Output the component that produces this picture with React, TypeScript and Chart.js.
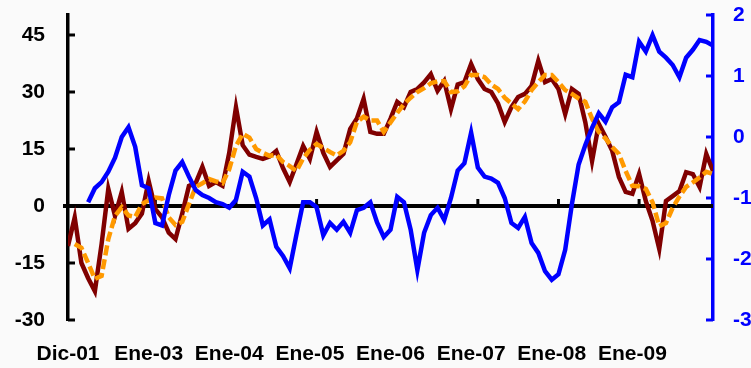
import React, { useEffect, useRef } from "react";
import { Chart, registerables } from "chart.js";

Chart.register(...registerables);

// Month index 0 = Dic-01 ... 96 = Dic-09
const xTickLabels = ["Dic-01", "Ene-03", "Ene-04", "Ene-05", "Ene-06", "Ene-07", "Ene-08", "Ene-09"];
const xTickPositions = [0, 12, 24, 36, 48, 60, 72, 84];
const yearTickMarks = [13, 25, 37, 49, 61, 73, 85];
const leftTicks = [-30, -15, 0, 15, 30, 45];
const rightTicks = [-3, -2, -1, 0, 1, 2];

// Maroon series (left axis)
const seriesMaroon = [
  -10.5, -3, -15, -19, -22.4, -10, 4.5, -2.6, 3.7, -6,
  -4.5, -2, 6.6, -0.8, -3, -7, -8.7, -2, 5.3, 6,
  10.3, 5.3, 6.3, 5.3, 14, 26, 16, 13.5, 12.9, 12.4,
  13, 14.5, 10, 6.3, 11, 15.8, 12.4, 19.5, 14, 10.3,
  12, 13.7, 20.3, 23, 28.2, 19.5, 19, 19, 23, 27.4,
  26, 30, 30.8, 32.5, 34.7, 30.3, 32.9, 25.5, 32, 32.6,
  37.4, 33.4, 30.8, 30, 27, 22.1, 26, 28.7, 29.5, 31.6,
  38.2, 32.6, 33.4, 30.8, 24.2, 30.8, 29.5, 22, 11.8, 21.6,
  18.2, 14.5, 7.6, 3.7, 3.2, 8.4, 1.3, -3.9, -11.3, 1.3,
  2.6, 3.9, 8.9, 8.4, 5, 13.7, 9.2,
];

// Orange dashed series (left axis)
const seriesOrange = [
  null, -10, -11, -15, -19.2, -18.4, -8.7, -2.6, -0.3, -2.5,
  -2.9, 0.5, 1.5, 2.2, 2, -3, -5, -4.2, 0.5, 5,
  6, 7.1, 6.5, 6, 9.7, 15.8, 19, 18, 15, 14,
  13.2, 13.5, 11.6, 10.5, 9.2, 12.5, 14.8, 16.3, 15.3, 14.2,
  13.3, 14.5, 16.8, 22.1, 23.5, 22.5, 22.5, 19.5, 22, 24.5,
  26.8, 28.5, 30, 31, 32.3, 32.8, 32.9, 30, 30.2, 31.5,
  34.5, 34.5, 33.9, 32, 30.8, 28.5, 27, 25.5, 27.5, 30.5,
  32.6, 34.5, 34.5, 32.6, 30.5, 29.5, 28.3, 27.4, 23, 19.5,
  17.8, 15.5, 13.7, 9.2, 5.3, 5.2, 4.5, 1, -5.3, -4.5,
  -0.5, 2.5, 5, 6.2, 7.5, 9, 8.4,
];

// Blue series (right axis)
const seriesBlue = [
  null, null, null, -1.07, -0.84, -0.74, -0.57, -0.34, 0, 0.16,
  -0.16, -0.79, -0.84, -1.41, -1.45, -0.95, -0.55, -0.41, -0.65, -0.87,
  -0.95, -1.0, -1.07, -1.1, -1.16, -1.03, -0.57, -0.65, -1.0, -1.45,
  -1.35, -1.8, -1.95, -2.15, -1.6, -1.07, -1.07, -1.15, -1.61, -1.41,
  -1.52, -1.39, -1.57, -1.2, -1.16, -1.07, -1.4, -1.64, -1.52, -0.98,
  -1.07, -1.52, -2.18, -1.57, -1.28, -1.16, -1.36, -1.0, -0.55, -0.43,
  0.07, -0.5, -0.65, -0.68, -0.75, -1.0, -1.41, -1.49, -1.31, -1.74,
  -1.9, -2.2, -2.34, -2.25, -1.85, -1.1, -0.45, -0.13, 0.15, 0.39,
  0.25, 0.49, 0.57, 1.02, 0.98, 1.56, 1.4, 1.67, 1.4, 1.3,
  1.18, 0.98, 1.3, 1.43, 1.59, 1.56, 1.5,
];

const FONT = "'Liberation Sans', Arial, sans-serif";

const toPoints = (arr: (number | null)[]) => arr.map((v, i) => ({ x: i, y: v }));

const decorPlugin = {
  id: "decor",
  beforeDatasetsDraw(chart: any) {
    const { ctx, chartArea, scales } = chart;
    const y0 = scales.y.getPixelForValue(0);
    ctx.save();
    ctx.strokeStyle = "#000";
    ctx.lineWidth = 4;
    ctx.beginPath();
    ctx.moveTo(chartArea.left - 5, y0);
    ctx.lineTo(chartArea.right, y0);
    ctx.stroke();
    ctx.lineWidth = 3;
    yearTickMarks.forEach((m) => {
      const x = scales.x.getPixelForValue(m);
      ctx.beginPath();
      ctx.moveTo(x, y0);
      ctx.lineTo(x, y0 - 7);
      ctx.stroke();
    });
    ctx.restore();
  },
  afterDraw(chart: any) {
    const { ctx, chartArea, scales } = chart;
    ctx.save();
    ctx.lineWidth = 3;
    ctx.strokeStyle = "#000";
    leftTicks.forEach((v) => {
      const y = scales.y.getPixelForValue(v);
      ctx.beginPath();
      ctx.moveTo(chartArea.left, y);
      ctx.lineTo(chartArea.left + 7, y);
      ctx.stroke();
    });
    ctx.strokeStyle = "#0000ff";
    rightTicks.forEach((v) => {
      const y = scales.y1.getPixelForValue(v);
      ctx.beginPath();
      ctx.moveTo(chartArea.right - 7, y);
      ctx.lineTo(chartArea.right, y);
      ctx.stroke();
    });
    ctx.restore();
  },
};

export default function App() {
  const ref = useRef<HTMLCanvasElement>(null);
  useEffect(() => {
    if (!ref.current) return;
    const chart = new Chart(ref.current, {
      type: "line",
      data: {
        datasets: [
          {
            data: toPoints(seriesBlue),
            yAxisID: "y1",
            borderColor: "#0000ff",
            borderWidth: 4.5,
            pointRadius: 0,
            order: 0,
          },
          {
            data: toPoints(seriesOrange),
            yAxisID: "y",
            borderColor: "#ff9900",
            borderWidth: 4.5,
            borderDash: [10, 4],
            pointRadius: 0,
            order: 1,
          },
          {
            data: toPoints(seriesMaroon),
            yAxisID: "y",
            borderColor: "#800000",
            borderWidth: 4.5,
            pointRadius: 0,
            order: 2,
          },
        ] as any,
      },
      options: {
        animation: false,
        responsive: false,
        devicePixelRatio: 1,
        layout: { padding: { top: 15, left: 0, right: 0, bottom: 0 } },
        plugins: { legend: { display: false }, tooltip: { enabled: false } },
        scales: {
          x: {
            type: "linear",
            min: 0,
            max: 96,
            grid: { display: false },
            border: { display: false },
            afterBuildTicks: (s: any) => {
              s.ticks = xTickPositions.map((v) => ({ value: v }));
            },
            afterFit: (s: any) => {
              s.height = 48;
              s.paddingLeft = 0;
              s.paddingRight = 0;
            },
            ticks: {
              autoSkip: false,
              maxRotation: 0,
              padding: 14,
              color: "#000",
              font: { family: FONT, size: 21, weight: "bold" },
              callback: (v: any) => {
                const idx = xTickPositions.indexOf(Number(v));
                return idx >= 0 ? xTickLabels[idx] : "";
              },
            },
          },
          y: {
            type: "linear",
            position: "left",
            min: -30,
            max: 50.26,
            grid: { display: false },
            border: { display: true, color: "#000", width: 3.5 },
            afterBuildTicks: (s: any) => {
              s.ticks = leftTicks.map((v) => ({ value: v }));
            },
            afterFit: (s: any) => {
              s.width = 68;
              s.paddingTop = 0;
              s.paddingBottom = 0;
            },
            ticks: {
              padding: 15,
              color: "#000",
              font: { family: FONT, size: 21, weight: "bold" },
            },
          },
          y1: {
            type: "linear",
            position: "right",
            min: -3,
            max: 2,
            grid: { display: false },
            border: { display: true, color: "#0000ff", width: 3.5 },
            afterBuildTicks: (s: any) => {
              s.ticks = rightTicks.map((v) => ({ value: v }));
            },
            afterFit: (s: any) => {
              s.width = 67;
              s.paddingTop = 0;
              s.paddingBottom = 0;
            },
            ticks: {
              padding: 12,
              color: "#0000ff",
              font: { family: FONT, size: 21, weight: "bold" },
            },
          },
        },
      } as any,
      plugins: [decorPlugin],
    });
    return () => chart.destroy();
  }, []);

  return (
    <div
      style={{
        position: "fixed",
        left: 0,
        top: 0,
        width: 780,
        height: 368,
        background: "#fafafa",
        overflow: "hidden",
      }}
    >
      <canvas ref={ref} width={780} height={368} style={{ display: "block" }} />
    </div>
  );
}
